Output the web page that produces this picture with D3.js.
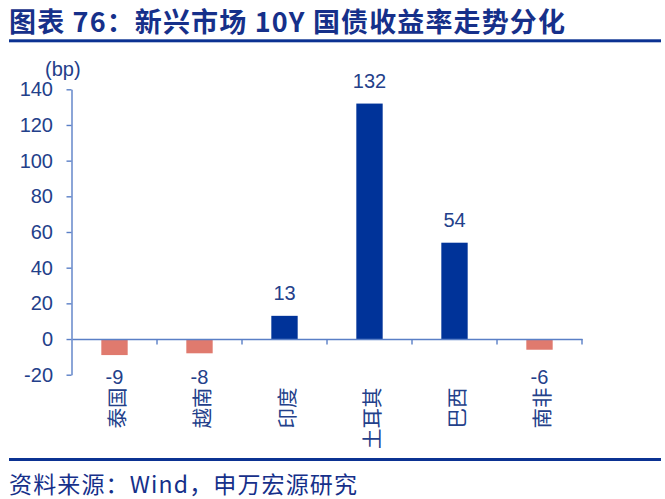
<!DOCTYPE html>
<html>
<head>
<meta charset="utf-8">
<script src="https://cdn.jsdelivr.net/npm/d3@7"></script>
<style>
  html, body { margin: 0; padding: 0; background: #fff; }
  svg { display: block; }
</style>
</head>
<body>
<svg id="chart" width="665" height="499"></svg>
<script>
const categories = ["泰国", "越南", "印度", "土耳其", "巴西", "南非"];
const values = [-9, -8, 13, 132, 54, -6];
const yTicks = [-20, 0, 20, 40, 60, 80, 100, 120, 140];
const titleText = "图表 76：新兴市场 10Y 国债收益率走势分化";
const sourceText = "资料来源：Wind，申万宏源研究";
const unitText = "(bp)";

const svg = d3.select("#chart");
const posColor = "#003399";
const negColor = "#e07a6e";
const axisColor = "#5a7fc6";
const textColor = "#23408a";
const navy = "#0b3292";
const numFont = "'Liberation Sans', Arial, sans-serif";
const cjkFont = "'Noto Sans CJK SC', 'Noto Sans', sans-serif";
const fmt = d => String(d);

// Title
svg.append("text")
  .attr("x", 9).attr("y", 32)
  .attr("font-family", cjkFont)
  .attr("font-weight", "bold")
  .attr("font-size", 27)
  .attr("fill", "#16308a")
  .attr("textLength", 556)
  .attr("lengthAdjust", "spacing")
  .text(titleText);
svg.append("rect").attr("x", 9).attr("y", 39.3).attr("width", 652).attr("height", 3).attr("fill", navy);

// Footer
svg.append("rect").attr("x", 9).attr("y", 458).attr("width", 652).attr("height", 3).attr("fill", navy);
svg.append("text")
  .attr("x", 9).attr("y", 493)
  .attr("font-family", cjkFont)
  .attr("font-size", 23)
  .attr("fill", "#16308a")
  .attr("textLength", 348)
  .attr("lengthAdjust", "spacing")
  .text(sourceText);

// Scales
const x = d3.scaleBand().domain(categories).range([72, 582]).padding(0);
const y = d3.scaleLinear().domain([-20, 140]).range([374.7, 89.3]);
const barW = x.bandwidth() * 0.31;

// Y axis
const yAxis = svg.append("g")
  .attr("transform", "translate(71.5,0)")
  .call(d3.axisLeft(y).tickValues(yTicks).tickSize(5).tickSizeOuter(0).tickPadding(13.5).tickFormat(fmt));
yAxis.select(".domain").attr("stroke", axisColor).attr("stroke-width", 1.4);
yAxis.selectAll(".tick line").attr("stroke", axisColor).attr("stroke-width", 1.4);
yAxis.selectAll(".tick text")
  .attr("font-family", numFont).attr("font-size", 20).attr("fill", textColor);

// Unit label
svg.append("text")
  .attr("x", 45).attr("y", 76)
  .attr("font-family", numFont).attr("font-size", 20).attr("fill", textColor)
  .text(unitText);

// Bars
svg.append("g").selectAll("rect")
  .data(values)
  .join("rect")
  .attr("x", (d, i) => x(categories[i]) + x.bandwidth() / 2 - barW / 2)
  .attr("width", barW)
  .attr("y", d => y(Math.max(0, d)))
  .attr("height", d => Math.abs(y(d) - y(0)))
  .attr("fill", d => d >= 0 ? posColor : negColor);

// X axis line and boundary ticks
const y0 = y(0);
const xAxis = svg.append("g")
  .attr("transform", `translate(0,${y0})`)
  .call(d3.axisBottom(x).tickSize(0).tickSizeOuter(0).tickFormat(""));
xAxis.select(".domain").attr("stroke", axisColor).attr("stroke-width", 1.4);
const bounds = categories.map(c => x(c)).concat([x(categories[categories.length - 1]) + x.bandwidth()]);
xAxis.selectAll(".bound")
  .data(bounds.slice(1))
  .join("line")
  .attr("class", "bound")
  .attr("x1", d => d).attr("x2", d => d)
  .attr("y1", 0).attr("y2", 5.5)
  .attr("stroke", axisColor).attr("stroke-width", 1.4);

// Data labels
svg.append("g").selectAll("text")
  .data(values)
  .join("text")
  .attr("x", (d, i) => x(categories[i]) + x.bandwidth() / 2)
  .attr("y", d => d >= 0 ? y(d) - 16 : 384)
  .attr("text-anchor", "middle")
  .attr("font-family", numFont).attr("font-size", 20).attr("fill", textColor)
  .text(fmt);

// Category labels (rotated)
svg.append("g").selectAll("text")
  .data(categories)
  .join("text")
  .attr("transform", d => `translate(${x(d) + x.bandwidth() / 2 + 1},387.5) rotate(-90)`)
  .attr("text-anchor", "end")
  .attr("dominant-baseline", "central")
  .attr("font-family", cjkFont).attr("font-size", 20.5).attr("fill", textColor)
  .text(d => d);
</script>
</body>
</html>
